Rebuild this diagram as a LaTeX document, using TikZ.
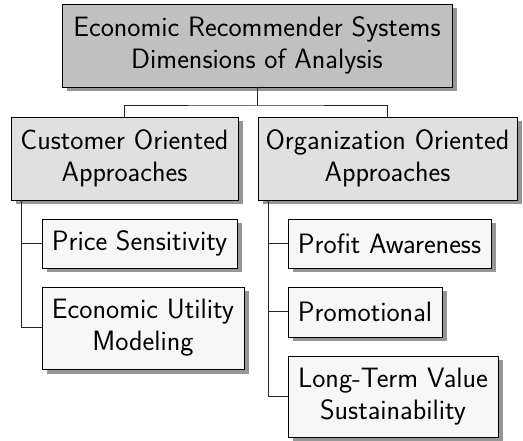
\documentclass[tikz,border=0pt]{standalone}
\usetikzlibrary{shadows}
\definecolor{rootfill}{RGB}{192,192,192}
\definecolor{midfill}{RGB}{224,224,224}
\definecolor{leaffill}{RGB}{247,247,247}
\definecolor{shadowgray}{RGB}{150,150,150}
\tikzset{
  box/.style={draw=black, line width=0.8pt, rectangle, inner sep=0pt, align=center,
    font=\sffamily\fontsize{28}{32}\selectfont,
    drop shadow={shadow xshift=4.5pt, shadow yshift=-4.5pt, fill=shadowgray, opacity=1}},
  rootbox/.style={box, fill=rootfill},
  midbox/.style={box, fill=midfill},
  leafbox/.style={box, fill=leaffill},
  conn/.style={line width=1pt, draw=black!85}
}
\begin{document}
\begin{tikzpicture}[x=1pt,y=-1pt]
\useasboundingbox (0,0) rectangle (523,441);
\node[rootbox, minimum width=390pt, minimum height=83pt] (root) at (257,45.5) {Economic Recommender Systems\\Dimensions of Analysis};
\node[midbox, minimum width=227pt, minimum height=83pt] (cust) at (124.5,158.5) {Customer Oriented\\Approaches};
\node[midbox, minimum width=259pt, minimum height=83pt] (org) at (387.5,158.5) {Organization Oriented\\Approaches};
\node[leafbox, minimum width=195pt, minimum height=49pt] (price) at (139.5,243.5) {Price Sensitivity};
\node[leafbox, minimum width=202pt, minimum height=82pt] (euti) at (143,328) {Economic Utility\\Modeling};
\node[leafbox, minimum width=203pt, minimum height=49pt] (profit) at (389.5,243.5) {Profit Awareness};
\node[leafbox, minimum width=154pt, minimum height=50pt] (promo) at (365,312) {Promotional};
\node[leafbox, minimum width=210pt, minimum height=81pt] (ltv) at (393,396.5) {Long-Term Value\\Sustainability};
\coordinate (j) at (257,106);
\draw[conn] (root.south) -- (j);
\draw[conn] (cust.north) |- (j) -| (org.north);
\coordinate (cs) at ([xshift=11pt]cust.south west);
\coordinate (os) at ([xshift=11pt]org.south west);
\draw[conn] (cs) |- (price.west);
\draw[conn] (cs) |- (euti.west);
\draw[conn] (os) |- (profit.west);
\draw[conn] (os) |- (promo.west);
\draw[conn] (os) |- (ltv.west);
\end{tikzpicture}
\end{document}
